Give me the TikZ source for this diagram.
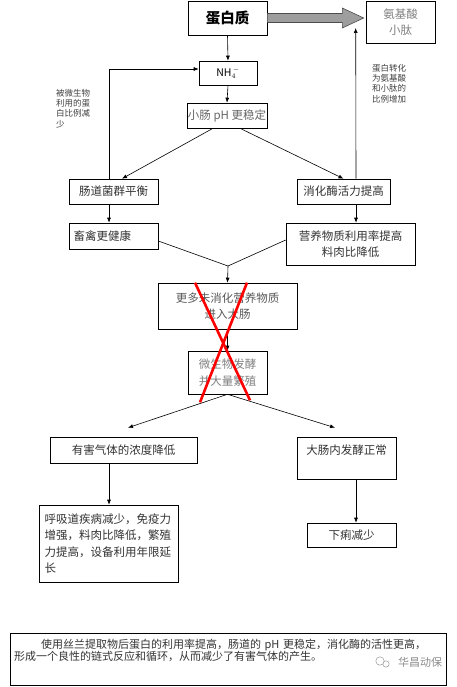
\documentclass[tikz,border=0pt]{standalone}
\usepackage{fontspec}
\setmainfont{Noto Sans CJK SC}
\usetikzlibrary{arrows.meta, calc, shadows}

\begin{document}
\begin{tikzpicture}[
        x=1pt, y=1pt,
        >={Latex[length=5pt,width=4pt]},
        font=\fontsize{11.5}{16.5}\selectfont,
        box/.style={draw, fill=white, text=black!80, line width=0.6pt, inner sep=1pt, align=center,
            drop shadow={shadow xshift=1pt, shadow yshift=-1pt, fill=black!85, opacity=1}},
        pale/.style={box, text=black!50},
        note/.style={anchor=north west, align=left, text=black!75, inner sep=0pt, font=\fontsize{8.5}{10.3}\selectfont},
        wire/.style={->, line width=0.6pt},
        mergeline/.style={line width=0.6pt},
        cross/.style={red, line width=2.6pt},
        bigarrow/.style={fill=black!38, draw=black!70, line width=0.6pt}
    ]
    \useasboundingbox (0,0) rectangle (456,-687);
    % top row
    \node[box, minimum width=79, minimum height=34, font=\fontsize{14.5}{16}\selectfont\bfseries, text=black] (prot) at (227.5,-18) {蛋白质};
    \node[pale, minimum width=69, minimum height=42] (amino) at (400.5,-22) {氨基酸\\小肽};
    \node[box, minimum width=58, minimum height=24, font=\fontsize{10.5}{12}\selectfont, text=black] (nh4) at (228,-73) {NH$_4^{\,-}$};
    \node[pale, text=black!60, minimum width=80, minimum height=25] (ph) at (227,-115.5) {小肠 pH 更稳定};
    \node[note] (lossnote) at (56,-89) {被微生物\\利用的蛋\\白比例减\\少};
    \node[note] (gainnote) at (372,-64) {蛋白转化\\为氨基酸\\和小肽的\\比例增加};
    % second level
    \node[box, minimum width=89, minimum height=25] (flora) at (113.5,-191.5) {肠道菌群平衡};
    \node[box, minimum width=93, minimum height=25] (enzyme) at (343.5,-191.5) {消化酶活力提高};
    \node[box, minimum width=89, minimum height=26, text width=80, align=left] (health) at (113.5,-236) {畜禽更健康};
    \node[box, minimum width=129, minimum height=42] (nutrient) at (350.5,-244) {营养物质利用率提高\\料肉比降低};
    \coordinate (merge) at (228,-266);
    % large intestine
    \node[pale, text=black!65, minimum width=139, minimum height=46] (undig) at (227.5,-306) {更多未消化营养物质\\进入大肠};
    \node[pale, minimum width=79, minimum height=43] (ferment) at (227.5,-372.5) {微生物发酵\\并大量繁殖};
    \node[box, minimum width=147, minimum height=26] (gas) at (123.5,-450) {有害气体的浓度降低};
    \node[box, minimum width=99, minimum height=42] (colon) at (346.5,-458) {大肠内发酵正常\\\mbox{}};
    \node[box, minimum width=139, minimum height=77, text width=128, align=left] (resp) at (108.5,-543.5)
        {呼吸道疾病减少，免疫力\\增强，料肉比降低，繁殖\\力提高，设备利用年限延\\长};
    \node[box, minimum width=89, minimum height=24] (diarrhea) at (351.5,-535) {下痢减少};
    % summary
    \node[box, minimum width=436, minimum height=52, text width=428, align=left, font=\fontsize{11}{12}\selectfont] (summary) at (228,-659)
        {\hspace*{27pt}使用丝兰提取物后蛋白的利用率提高，肠道的 pH 更稳定，消化酶的活性更高，\\形成一个良性的链式反应和循环，从而减少了有害气体的产生。\\[6pt]\mbox{}};
    \node[text=black!45, font=\fontsize{11}{12}\selectfont, inner sep=0pt] (mark) at (420,-662) {华昌动保};
    \draw[black!40, line width=0.5pt] (380,-661) circle (4.2) (386,-664) circle (3.2);

    % connectors
    \draw[bigarrow] ($(prot.east)+(0,4.5)$) -- ($(prot.east)+(75,4.5)$) -- ++(0,5.5)
        -- ($(amino.west|-prot.east)+(-2,0)$) -- ($(prot.east)+(75,-10)$) -- ++(0,5.5) -- ($(prot.east)+(0,-4.5)$);
    \draw[wire] (prot.south) -- (nh4.north);
    \draw[wire] (nh4.south) -- (ph.north);
    \draw[wire] ($(flora.north)+(-4.5,0)$) |- ($(nh4.west)+(0,4)$);
    \draw[wire] ($(ph.south)+(-14,0)$) -- ($(flora.north)+(8.5,0)$);
    \draw[wire] ($(ph.south)+(13,0)$) -- (enzyme.north);
    \draw[wire] ($(enzyme.north)+(12.5,0)$) -- ($(amino.west)+(-10,-6)$);
    \draw[wire] ($(flora.south)+(-4.5,0)$) -- ($(health.north)+(-4.5,0)$);
    \draw[wire] ($(enzyme.south)+(12.5,0)$) -- ($(nutrient.north)+(5.5,0)$);
    \draw[mergeline] ($(health.east)+(0,-5)$) -- (merge);
    \draw[mergeline] ($(nutrient.west)+(0,4)$) -- (merge);
    \draw[wire] (merge) -- (undig.north);
    \draw[wire] (undig.south) -- (ferment.north);
    \draw[wire] (ferment.south) -- ($(gas.north)+(4.5,9)$);
    \draw[wire] (ferment.south) -- ($(colon.north)+(-11.5,9)$);
    \draw[wire] ($(gas.south)+(-14.5,0)$) -- ($(resp.north)+(0.5,0)$);
    \draw[wire] ($(colon.south)+(9.5,0)$) -- ($(diarrhea.north)+(4.5,0)$);
    % the red cross
    \draw[cross] ($(undig.north)+(-32.5,0)$) -- ($(ferment.south)+(22.5,-6)$);
    \draw[cross] ($(undig.north)+(19.5,0)$) -- ($(ferment.south)+(-27.5,-8)$);
\end{tikzpicture}
\end{document}
